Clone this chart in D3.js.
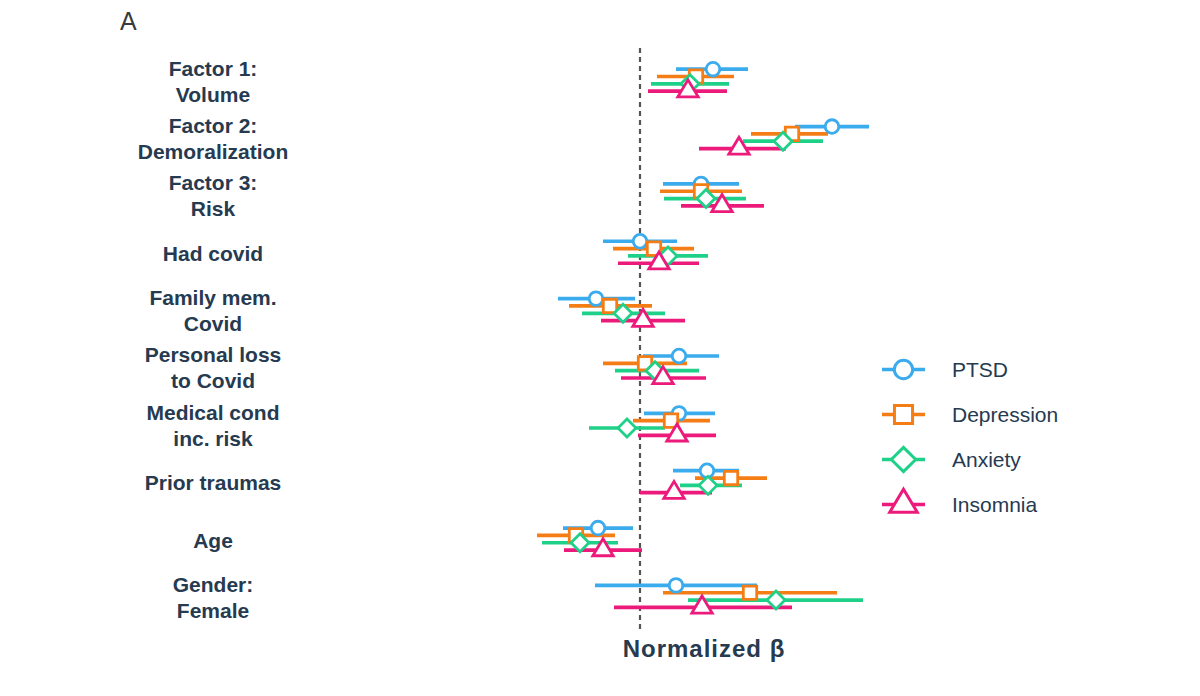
<!DOCTYPE html>
<html><head><meta charset="utf-8">
<script src="https://cdn.jsdelivr.net/npm/d3@7"></script>
<style>body{margin:0;background:#fff;} svg{display:block;}</style>
</head><body><svg id="c" width="1200" height="696"></svg>
<script>
// ---- data ----
const categories = [
  "Factor 1:\nVolume",
  "Factor 2:\nDemoralization",
  "Factor 3:\nRisk",
  "Had covid",
  "Family mem.\nCovid",
  "Personal loss\nto Covid",
  "Medical cond\ninc. risk",
  "Prior traumas",
  "Age",
  "Gender:\nFemale"
];
const seriesNames = ["PTSD", "Depression", "Anxiety", "Insomnia"];
// [estimate, lower, upper] per category (normalized beta, arbitrary units)
const ptsd = [
  [0.73, 0.36, 1.08], [1.92, 1.55, 2.29], [0.61, 0.23, 0.99], [0.00, -0.37, 0.37],
  [-0.44, -0.82, -0.05], [0.39, 0.03, 0.79], [0.39, 0.04, 0.75], [0.67, 0.33, 0.99],
  [-0.42, -0.77, -0.07], [0.36, -0.45, 1.17]
];
const depression = [
  [0.56, 0.17, 0.94], [1.52, 1.11, 1.88], [0.61, 0.20, 1.02], [0.14, -0.27, 0.54],
  [-0.30, -0.71, 0.12], [0.05, -0.37, 0.47], [0.31, -0.07, 0.70], [0.91, 0.55, 1.27],
  [-0.64, -1.03, -0.25], [1.10, 0.23, 1.97]
];
const anxiety = [
  [0.50, 0.11, 0.89], [1.43, 1.03, 1.83], [0.66, 0.24, 1.06], [0.28, -0.12, 0.68],
  [-0.17, -0.58, 0.25], [0.15, -0.25, 0.59], [-0.13, -0.51, 0.25], [0.68, 0.40, 1.02],
  [-0.60, -0.98, -0.22], [1.36, 0.48, 2.23]
];
const insomnia = [
  [0.48, 0.08, 0.87], [0.99, 0.59, 1.46], [0.82, 0.41, 1.24], [0.19, -0.22, 0.59],
  [0.03, -0.39, 0.45], [0.23, -0.19, 0.66], [0.37, -0.02, 0.76], [0.34, 0.00, 0.72],
  [-0.37, -0.76, 0.02], [0.62, -0.26, 1.52]
];
const xLabel = "Normalized \u03B2";
const panelLabel = "A";

// ---- styles ----
const colors = {PTSD: "#3aabec", Depression: "#f57d15", Anxiety: "#1fd088", Insomnia: "#ec1a7b"};
const shapes = {PTSD: "circle", Depression: "square", Anxiety: "diamond", Insomnia: "triangle"};
const seriesData = {PTSD: ptsd, Depression: depression, Anxiety: anxiety, Insomnia: insomnia};
const textColor = "#263a50";
const fontFam = "'Liberation Sans', Arial, sans-serif";

const svg = d3.select("#c");

const x = d3.scaleLinear().domain([-1.1, 2.5]).range([530, 890]);
const y = d3.scaleBand().domain(categories).range([51.5, 625.1]);
const off = d3.scalePoint().domain(seriesNames).range([-11, 11]);
const yc = c => y(c) + y.bandwidth() / 2;

function shapePath(type, cx, cy, k) {
  if (type === "circle") {
    const r = 6.8 * k;
    return `M${cx - r},${cy}a${r},${r} 0 1,0 ${2 * r},0a${r},${r} 0 1,0 ${-2 * r},0Z`;
  }
  if (type === "square") {
    const h = 6.7 * k;
    return `M${cx - h},${cy - h}H${cx + h}V${cy + h}H${cx - h}Z`;
  }
  if (type === "diamond") {
    const d = 9 * k;
    return `M${cx},${cy - d}L${cx + d},${cy}L${cx},${cy + d}L${cx - d},${cy}Z`;
  }
  const w = 10.2 * k, h = 17 * k;
  return `M${cx},${cy - 2 * h / 3}L${cx + w},${cy + h / 3}L${cx - w},${cy + h / 3}Z`;
}

// zero reference line
svg.append("line")
  .attr("x1", x(0)).attr("x2", x(0)).attr("y1", 48).attr("y2", 630)
  .attr("stroke", "#555").attr("stroke-width", 2.2).attr("stroke-dasharray", "5,4");

// error bars
seriesNames.forEach(s => {
  svg.append("g").selectAll("line").data(categories).join("line")
    .attr("x1", (c, i) => x(seriesData[s][i][1]))
    .attr("x2", (c, i) => x(seriesData[s][i][2]))
    .attr("y1", c => yc(c) + off(s))
    .attr("y2", c => yc(c) + off(s))
    .attr("stroke", colors[s]).attr("stroke-width", 3.7);
});
// markers
seriesNames.forEach(s => {
  svg.append("g").selectAll("path").data(categories).join("path")
    .attr("d", (c, i) => shapePath(shapes[s], x(seriesData[s][i][0]), yc(c) + off(s), 1))
    .attr("fill", "#fff").attr("stroke", colors[s]).attr("stroke-width", 2.8)
    .attr("stroke-linejoin", "miter");
});

// category labels
const fs = 21;
categories.forEach(c => {
  const lines = c.split("\n");
  const t = svg.append("text")
    .attr("text-anchor", "middle")
    .attr("font-family", fontFam).attr("font-weight", "bold").attr("font-size", fs)
    .attr("fill", textColor);
  const lh = 26;
  const startY = yc(c) + 0.358 * fs + 1 - (lines.length - 1) * lh / 2;
  lines.forEach((l, j) => {
    t.append("tspan").attr("x", 213).attr("y", startY + j * lh).text(l);
  });
});

// x label
svg.append("text")
  .attr("x", 704).attr("y", 657).attr("text-anchor", "middle")
  .attr("font-family", fontFam).attr("font-weight", "bold").attr("font-size", 24)
  .attr("letter-spacing", 1)
  .attr("fill", textColor).text(xLabel);

// panel label
svg.append("text")
  .attr("x", 120).attr("y", 30)
  .attr("font-family", fontFam).attr("font-size", 25)
  .attr("fill", "#3a3a3a").text(panelLabel);

// legend
const ly = d3.scalePoint().domain(seriesNames).range([369.5, 504.5]);
const lg = svg.append("g");
seriesNames.forEach(s => {
  lg.append("line").attr("x1", 882).attr("x2", 925)
    .attr("y1", ly(s)).attr("y2", ly(s))
    .attr("stroke", colors[s]).attr("stroke-width", 3.7);
  lg.append("path").attr("d", shapePath(shapes[s], 903.5, ly(s), 1.35))
    .attr("fill", "#fff").attr("stroke", colors[s]).attr("stroke-width", 3);
  lg.append("text").attr("x", 952).attr("y", ly(s) + 7.5)
    .attr("font-family", fontFam).attr("font-size", 21)
    .attr("fill", textColor).text(s);
});
</script>
</body></html>
